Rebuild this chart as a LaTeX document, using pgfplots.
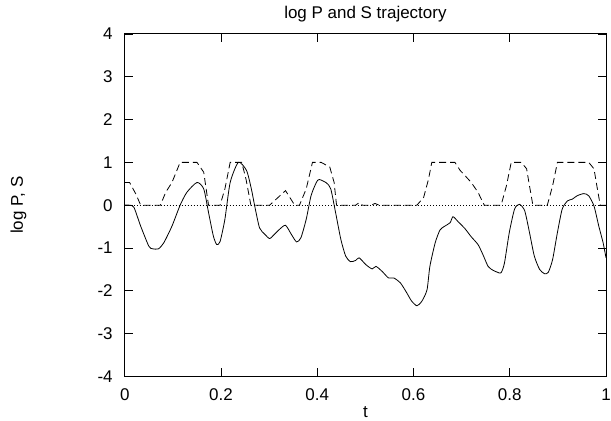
\documentclass[border=0pt]{standalone}
\usepackage{fontspec}
\setmainfont{Liberation Sans}
\usepackage{pgfplots}
\pgfplotsset{compat=1.18}
\begin{document}
\fontsize{17pt}{20pt}\selectfont
\begin{tikzpicture}
\begin{axis}[
  name=ax,
  scale only axis,
  width=482pt, height=343pt,
  xmin=0, xmax=1, ymin=-4, ymax=4,
  xtick={0,0.2,0.4,0.6,0.8,1},
  xticklabels={0,0.2,0.4,0.6,0.8,1},
  ytick={-4,-3,-2,-1,0,1,2,3,4},
  yticklabels={-4,-3,-2,-1,0,1,2,3,4},
  tick align=inside,
  major tick length=8pt,
  tick style={black, line width=0.8pt},
  axis line style={black, line width=0.9pt},
  xticklabel style={anchor=base, yshift=-24pt, inner sep=0pt},
  yticklabel style={anchor=east, xshift=-12pt, inner sep=0pt},
  title={log P and S trajectory},
  title style={at={(axis description cs:0.5,1)}, anchor=base, yshift=9pt, inner sep=0pt},
  xlabel={t},
  ylabel={log P, S},
  every axis x label/.style={at={(axis description cs:0.5,-0.1195)}, anchor=base, inner sep=0pt},
  every axis y label/.style={at={(axis description cs:-0.2116,0.5)}, rotate=90, anchor=base, inner sep=0pt},
  /pgf/number format/assume math mode=true,
]
% zero line
\addplot[black, line width=0.6pt, dash pattern=on 1pt off 2pt] coordinates {(0,0) (1,0)};
% log P (solid)
\addplot[black, line width=0.8pt, smooth, tension=0.4] coordinates {
(0,0) (0.010,0) (0.019,-0.05) (0.033,-0.49) (0.050,-0.96) (0.058,-1.02) (0.070,-1.02)
(0.081,-0.88) (0.098,-0.49) (0.115,0) (0.129,0.30) (0.150,0.53) (0.164,0.38) (0.174,-0.17)
(0.184,-0.72) (0.191,-0.92) (0.198,-0.85) (0.208,-0.33) (0.219,0.53) (0.236,1.0)
(0.253,0.81) (0.263,0.38) (0.270,-0.02) (0.280,-0.53) (0.291,-0.68) (0.301,-0.78)
(0.311,-0.68) (0.322,-0.56) (0.334,-0.47) (0.346,-0.68) (0.357,-0.86) (0.366,-0.76)
(0.377,-0.33) (0.387,0.22) (0.398,0.53) (0.404,0.60) (0.419,0.52) (0.428,0.38)
(0.438,-0.17) (0.449,-0.80) (0.459,-1.19) (0.469,-1.32) (0.480,-1.29) (0.487,-1.23)
(0.501,-1.39) (0.514,-1.49) (0.522,-1.43) (0.535,-1.55) (0.548,-1.70) (0.559,-1.70)
(0.573,-1.82) (0.586,-2.05) (0.596,-2.24) (0.607,-2.35) (0.617,-2.25) (0.628,-1.98)
(0.634,-1.43) (0.645,-0.88) (0.655,-0.58) (0.665,-0.49) (0.676,-0.41) (0.682,-0.27)
(0.693,-0.39) (0.707,-0.55) (0.720,-0.74) (0.734,-0.92) (0.744,-1.15) (0.755,-1.43)
(0.765,-1.52) (0.775,-1.57) (0.782,-1.58) (0.789,-1.35) (0.799,-0.64) (0.810,-0.09)
(0.820,0.02) (0.831,-0.13) (0.841,-0.64) (0.851,-1.19) (0.862,-1.50) (0.872,-1.60)
(0.880,-1.57) (0.889,-1.27) (0.899,-0.64) (0.909,-0.09) (0.920,0.10) (0.930,0.14)
(0.940,0.22) (0.954,0.27) (0.964,0.22) (0.975,-0.02) (0.985,-0.49) (0.994,-0.88) (1.0,-1.23)
};
% S (dashed)
\addplot[black, line width=0.8pt, dash pattern=on 7pt off 4pt] coordinates {
(0,0.53) (0.010,0.53) (0.023,0.26) (0.033,0) (0.074,0) (0.085,0.3) (0.098,0.53) (0.115,1)
(0.150,1) (0.164,0.77) (0.174,0) (0.198,0) (0.208,0.38) (0.219,1) (0.243,1) (0.252,0.6)
(0.262,0) (0.301,0) (0.334,0.34) (0.353,0) (0.363,0) (0.377,0.38) (0.390,1) (0.408,1)
(0.426,0.89) (0.435,0.53) (0.440,0) (0.480,0) (0.487,0.06) (0.494,0) (0.512,0) (0.520,0.04)
(0.528,0) (0.607,0) (0.621,0.18) (0.631,0.6) (0.638,1) (0.686,1) (0.697,0.81) (0.707,0.69)
(0.720,0.53) (0.734,0.3) (0.747,0) (0.782,0) (0.793,0.45) (0.803,1) (0.824,1) (0.835,0.85)
(0.841,0.45) (0.848,0) (0.878,0) (0.889,0.45) (0.899,1) (0.964,1) (0.975,0.85) (0.981,0.45)
(0.988,0) (1,0)
};
\end{axis}
\pgfresetboundingbox
\useasboundingbox ([xshift=-125pt,yshift=-44pt]ax.south west) rectangle ([xshift=5pt,yshift=34pt]ax.north east);
\end{tikzpicture}
\end{document}
